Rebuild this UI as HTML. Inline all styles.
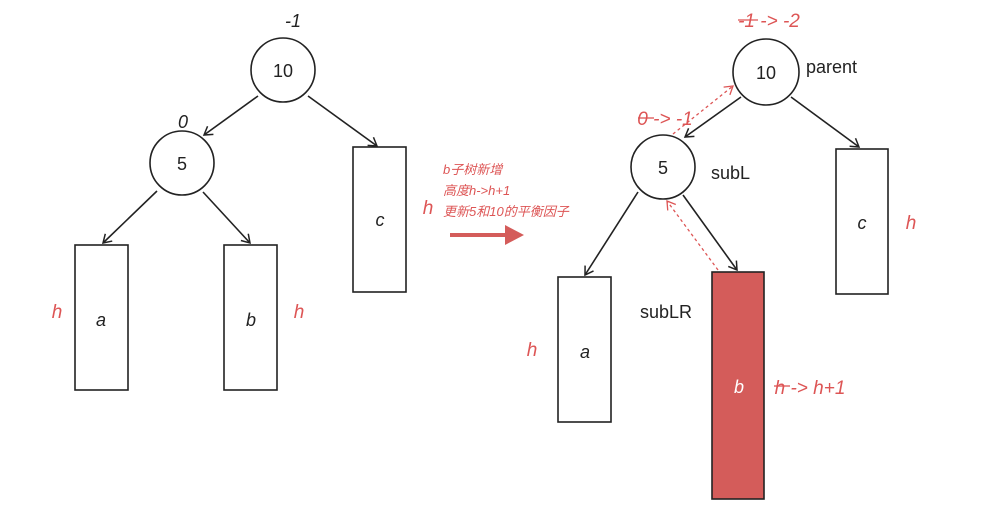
<!DOCTYPE html>
<html><head><meta charset="utf-8"><style>
html,body{margin:0;padding:0;background:#fff;}
svg{display:block;}
text{font-family:"Liberation Sans","Noto Sans CJK SC",sans-serif;}
</style></head><body>
<svg width="999" height="527" viewBox="0 0 999 527" xmlns="http://www.w3.org/2000/svg">
<defs>
<marker id="ah" markerWidth="12" markerHeight="12" refX="9" refY="6" orient="auto" markerUnits="userSpaceOnUse">
<path d="M1,1 L9,6 L1,11" fill="none" stroke="#222" stroke-width="1.5"/></marker>
<marker id="rh" markerWidth="12" markerHeight="12" refX="9" refY="6" orient="auto" markerUnits="userSpaceOnUse">
<path d="M1,1 L9,6 L1,11" fill="none" stroke="#d55" stroke-width="1.3"/></marker>
</defs>
<g stroke="#222" stroke-width="1.6" fill="none">
<!-- left -->
<circle cx="283" cy="70" r="32"/>
<circle cx="182" cy="163" r="32"/>
<rect x="353" y="147" width="53" height="145"/>
<rect x="75" y="245" width="53" height="145"/>
<rect x="224" y="245" width="53" height="145"/>
<line x1="258" y1="96" x2="204" y2="135" marker-end="url(#ah)"/>
<line x1="308" y1="96" x2="377" y2="146" marker-end="url(#ah)"/>
<line x1="157" y1="191" x2="103" y2="243" marker-end="url(#ah)"/>
<line x1="203" y1="192" x2="250" y2="243" marker-end="url(#ah)"/>
<!-- right -->
<circle cx="766" cy="72" r="33"/>
<circle cx="663" cy="167" r="32"/>
<rect x="836" y="149" width="52" height="145"/>
<rect x="558" y="277" width="53" height="145"/>
<rect x="712" y="272" width="52" height="227" fill="#d45c5a"/>
<line x1="741" y1="97" x2="685" y2="137" marker-end="url(#ah)"/>
<line x1="791" y1="97" x2="859" y2="147" marker-end="url(#ah)"/>
<line x1="638" y1="192" x2="585" y2="275" marker-end="url(#ah)"/>
<line x1="683" y1="195" x2="737" y2="270" marker-end="url(#ah)"/>
</g>
<g stroke="#d55" stroke-width="1.3" stroke-dasharray="3,3" fill="none">
<line x1="673" y1="134" x2="733" y2="86" marker-end="url(#rh)"/>
<line x1="718" y1="270" x2="667" y2="201" marker-end="url(#rh)"/>
</g>
<!-- arrow -->
<line x1="450" y1="235" x2="507" y2="235" stroke="#d45c5a" stroke-width="4"/>
<polygon points="505,225 524,235 505,245" fill="#d45c5a"/>
<g fill="#222" font-size="18" text-anchor="middle">
<text x="283" y="77">10</text>
<text x="182" y="170">5</text>
<text x="766" y="79">10</text>
<text x="663" y="174">5</text>
<g font-style="italic">
<text x="380" y="226">c</text>
<text x="101" y="326">a</text>
<text x="251" y="326">b</text>
<text x="862" y="229">c</text>
<text x="585" y="358">a</text>
<text x="739" y="393" fill="#fff">b</text>
<text x="293" y="27">-1</text>
<text x="183" y="128">0</text>
</g>
</g>
<g fill="#222" font-size="18">
<text x="806" y="73">parent</text>
<text x="711" y="179">subL</text>
<text x="640" y="318">subLR</text>
</g>
<g fill="#d55" font-size="19" font-style="italic" text-anchor="middle">
<text x="57" y="318">h</text>
<text x="299" y="318">h</text>
<text x="428" y="214">h</text>
<text x="532" y="356">h</text>
<text x="911" y="229">h</text>
<text x="769" y="27">-1 -&gt; -2</text>
<text x="665" y="125">0 -&gt; -1</text>
<text x="810" y="394">h -&gt; h+1</text>
</g>
<g stroke="#d55" stroke-width="1.3">
<line x1="738" y1="20" x2="758" y2="20"/>
<line x1="638" y1="118" x2="654" y2="118"/>
<line x1="774" y1="386" x2="790" y2="386"/>
</g>
<g fill="#d55" font-size="13" font-style="italic">
<text x="443" y="174">b子树新增</text>
<text x="443" y="195">高度h-&gt;h+1</text>
<text x="443" y="216">更新5和10的平衡因子</text>
</g>
</svg>
</body></html>
